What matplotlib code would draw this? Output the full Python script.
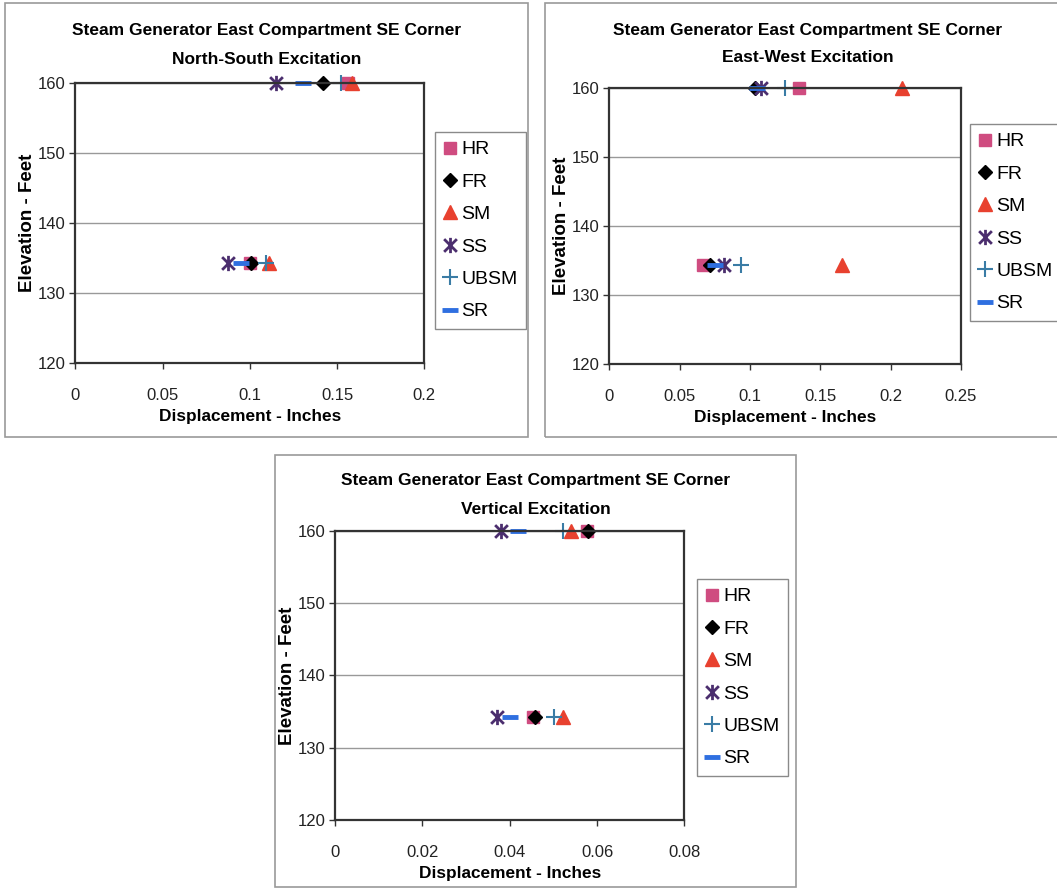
import matplotlib
matplotlib.use("Agg")
import matplotlib.pyplot as plt
from matplotlib.path import Path
from matplotlib.patches import Rectangle
from matplotlib.ticker import FuncFormatter

plt.rcParams['font.family'] = ['Liberation Sans', 'DejaVu Sans']

# elevations of the two data rows (feet)
elevation = [160, 134.3]

series = ['HR', 'FR', 'SM', 'SS', 'UBSM', 'SR']

# displacement (inches) at [160 ft, 134.3 ft]
ns_disp = {
    'HR': [0.156, 0.1003],
    'FR': [0.142, 0.1005],
    'SM': [0.1585, 0.1108],
    'SS': [0.1149, 0.0877],
    'UBSM': [0.152, 0.109],
    'SR': [0.1305, 0.095],
}
ew_disp = {
    'HR': [0.135, 0.0664],
    'FR': [0.1036, 0.0713],
    'SM': [0.2083, 0.1654],
    'SS': [0.1076, 0.0818],
    'UBSM': [0.1249, 0.0936],
    'SR': [0.105, 0.075],
}
vt_disp = {
    'HR': [0.0576, 0.0453],
    'FR': [0.0579, 0.0457],
    'SM': [0.054, 0.0521],
    'SS': [0.0381, 0.0371],
    'UBSM': [0.0521, 0.0501],
    'SR': [0.042, 0.0401],
}

ns_xticks = [0, 0.05, 0.1, 0.15, 0.2]
ew_xticks = [0, 0.05, 0.1, 0.15, 0.2, 0.25]
vt_xticks = [0, 0.02, 0.04, 0.06, 0.08]
yticks = [120, 130, 140, 150, 160]

title_top = 'Steam Generator East Compartment SE Corner'

# excel-like star: X with a vertical bar
star = Path([(-0.5, -0.5), (0.5, 0.5), (-0.5, 0.5), (0.5, -0.5), (0, -0.6), (0, 0.6)],
            [Path.MOVETO, Path.LINETO, Path.MOVETO, Path.LINETO, Path.MOVETO, Path.LINETO])

style = {
    'HR': dict(marker='s', color='#CF4C80', ms=8),
    'FR': dict(marker='D', color='#000000', ms=7),
    'SM': dict(marker='^', color='#E8412F', ms=10),
    'SS': dict(marker=star, color='#4B2E6E', ms=11, mew=2),
    'UBSM': dict(marker='+', color='#3A7CA5', ms=11, mew=1.5),
    'SR': dict(marker='_', color='#2F6FE0', ms=11, mew=3.5),
}

W, H = 1057, 889
fig = plt.figure(figsize=(W / 100, H / 100), dpi=100)


def fx(px):
    return px / W


def fy(py):
    return 1 - py / H


def panel(box, frame, data, xticks, subtitle, title_y, leg_xy):
    x0, y0, x1, y1 = frame
    fig.add_artist(Rectangle((fx(x0), fy(y1)), fx(x1 - x0), (y1 - y0) / H,
                             transform=fig.transFigure, fill=False,
                             edgecolor='#9A9A9A', lw=1.2))
    ax = fig.add_axes([fx(box[0]), fy(box[3]), fx(box[2] - box[0]), (box[3] - box[1]) / H])
    for s in series:
        st = style[s]
        ax.plot(data[s], elevation, linestyle='none', marker=st['marker'],
                color=st['color'], markersize=st['ms'], markeredgewidth=st.get('mew', 1),
                label=s, clip_on=False)
    ax.set_xlim(xticks[0], xticks[-1])
    ax.set_ylim(120, 160)
    ax.set_xticks(xticks)
    ax.set_yticks(yticks)
    ax.xaxis.set_major_formatter(FuncFormatter(lambda v, p: '%g' % v))
    ax.grid(axis='y', color='#999999', lw=1)
    ax.set_axisbelow(True)
    for sp in ax.spines.values():
        sp.set_color('#333333')
        sp.set_linewidth(1.6)
    ax.tick_params(axis='x', direction='out', length=4, width=1, pad=14,
                   labelsize=12, colors='#333333', labelcolor='#222222')
    ax.tick_params(axis='y', direction='out', length=4, width=1, pad=3,
                   labelsize=12, colors='#333333', labelcolor='#222222')
    ax.set_xlabel('Displacement - Inches', fontsize=12.4, fontweight='bold', labelpad=4)
    ax.set_ylabel('Elevation - Feet', fontsize=13.5, fontweight='bold', labelpad=1)
    cx = (x0 + x1) / 2
    fig.text(fx(cx), fy(title_y), title_top, ha='center', va='center',
             fontsize=12.5, fontweight='bold')
    fig.text(fx(cx), fy(title_y + 28), subtitle, ha='center', va='center',
             fontsize=12.5, fontweight='bold')
    leg = ax.legend(loc='upper left', bbox_to_anchor=(fx(leg_xy[0]), fy(leg_xy[1])),
                    bbox_transform=fig.transFigure, borderaxespad=0, fontsize=14,
                    numpoints=1, handlelength=0.6, handletextpad=0.3,
                    labelspacing=0.76, borderpad=0.45, fancybox=False,
                    edgecolor='#8A8A8A', framealpha=1)
    leg.get_frame().set_linewidth(1)
    return ax


panel((75.4, 82.7, 424.3, 363.3), (5, 3, 528, 437), ns_disp, ns_xticks,
      'North-South Excitation', 31, (435, 132))
panel((609.3, 88.3, 961, 364), (545, 3, 1070, 437), ew_disp, ew_xticks,
      'East-West Excitation', 30, (970, 124))
panel((335.2, 530.7, 684.3, 820), (275, 455, 796, 887), vt_disp, vt_xticks,
      'Vertical Excitation', 481, (697, 579))

fig.savefig('out.png', dpi=100)
